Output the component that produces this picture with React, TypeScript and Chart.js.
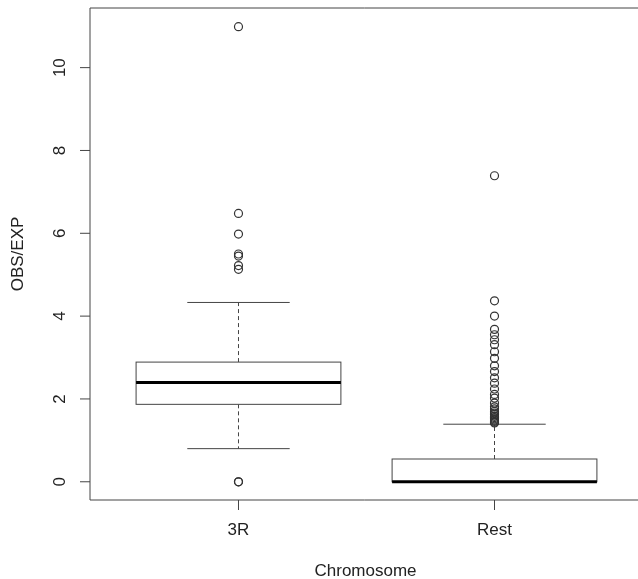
import React, { useEffect, useRef } from "react";
import { Chart, registerables } from "chart.js";

Chart.register(...registerables);

const categories = ["3R", "Rest"];
const lowerWhisker = [0.8, 0];
const q1 = [1.87, 0];
const median = [2.4, 0];
const q3 = [2.89, 0.55];
const upperWhisker = [4.33, 1.39];
const outliers3R = [10.99, 6.48, 5.98, 5.5, 5.45, 5.22, 5.13, 0, 0];
const outliersRest = [
  7.39, 4.37, 4.0, 3.68, 3.55, 3.43, 3.31, 3.14, 2.98, 2.8, 2.66, 2.51, 2.38,
  2.24, 2.11, 2.02, 1.9, 1.81, 1.76, 1.7, 1.66, 1.62, 1.58, 1.55, 1.52, 1.49,
  1.46, 1.44, 1.42,
];
const yTicks = [0, 2, 4, 6, 8, 10];
const xTitle = "Chromosome";
const yTitle = "OBS/EXP";

const FONT = "17px 'Liberation Sans', Arial, sans-serif";
const LINE = "#444";
const TEXT = "#222";

const boxPlugin = {
  id: "boxDraw",
  beforeDatasetsDraw(chart: any) {
    const { ctx } = chart;
    const xs = chart.scales.x;
    const ys = chart.scales.y;
    ctx.save();
    for (let i = 0; i < categories.length; i++) {
      const c = i + 1;
      const xc = xs.getPixelForValue(c);
      const xl = xs.getPixelForValue(c - 0.4);
      const xr = xs.getPixelForValue(c + 0.4);
      const cl = xs.getPixelForValue(c - 0.2);
      const cr = xs.getPixelForValue(c + 0.2);
      const yq1 = ys.getPixelForValue(q1[i]);
      const yq3 = ys.getPixelForValue(q3[i]);
      const ymed = ys.getPixelForValue(median[i]);
      const ylo = ys.getPixelForValue(lowerWhisker[i]);
      const yhi = ys.getPixelForValue(upperWhisker[i]);
      ctx.strokeStyle = LINE;
      ctx.lineWidth = 1;
      ctx.setLineDash([4, 3]);
      ctx.beginPath();
      ctx.moveTo(xc, yq3);
      ctx.lineTo(xc, yhi);
      ctx.moveTo(xc, yq1);
      ctx.lineTo(xc, ylo);
      ctx.stroke();
      ctx.setLineDash([]);
      ctx.beginPath();
      ctx.moveTo(cl, yhi);
      ctx.lineTo(cr, yhi);
      ctx.moveTo(cl, ylo);
      ctx.lineTo(cr, ylo);
      ctx.stroke();
      ctx.fillStyle = "#fff";
      ctx.fillRect(xl, yq3, xr - xl, yq1 - yq3);
      ctx.strokeRect(xl, yq3, xr - xl, yq1 - yq3);
      ctx.strokeStyle = "#000";
      ctx.lineWidth = 3;
      ctx.beginPath();
      ctx.moveTo(xl, ymed);
      ctx.lineTo(xr, ymed);
      ctx.stroke();
    }
    ctx.restore();
  },
  afterDraw(chart: any) {
    const { ctx, chartArea } = chart;
    const xs = chart.scales.x;
    const ys = chart.scales.y;
    const { left, top, right, bottom } = chartArea;
    ctx.save();
    ctx.strokeStyle = LINE;
    ctx.lineWidth = 1;
    ctx.beginPath();
    ctx.moveTo(right + 5, top);
    ctx.lineTo(left, top);
    ctx.lineTo(left, bottom);
    ctx.lineTo(right + 5, bottom);
    ctx.stroke();
    ctx.beginPath();
    for (const t of yTicks) {
      const y = ys.getPixelForValue(t);
      ctx.moveTo(left, y);
      ctx.lineTo(left - 10, y);
    }
    for (let i = 0; i < categories.length; i++) {
      const x = xs.getPixelForValue(i + 1);
      ctx.moveTo(x, bottom);
      ctx.lineTo(x, bottom + 10);
    }
    ctx.stroke();
    ctx.fillStyle = TEXT;
    ctx.font = FONT;
    ctx.textAlign = "center";
    ctx.textBaseline = "middle";
    for (let i = 0; i < categories.length; i++) {
      const x = xs.getPixelForValue(i + 1);
      ctx.fillText(categories[i], x, bottom + 30);
    }
    ctx.fillText(xTitle, (left + 641) / 2, bottom + 71);
    for (const t of yTicks) {
      const y = ys.getPixelForValue(t);
      ctx.save();
      ctx.translate(left - 30, y);
      ctx.rotate(-Math.PI / 2);
      ctx.fillText(String(t), 0, 0);
      ctx.restore();
    }
    ctx.save();
    ctx.translate(left - 72, (top + bottom) / 2);
    ctx.rotate(-Math.PI / 2);
    ctx.fillText(yTitle, 0, 0);
    ctx.restore();
    ctx.restore();
  },
};

export default function App() {
  const ref = useRef<HTMLCanvasElement>(null);
  useEffect(() => {
    document.body.style.margin = "0";
    document.body.style.background = "#fff";
    if (!ref.current) return;
    const chart = new Chart(ref.current, {
      type: "scatter",
      data: {
        datasets: [
          {
            label: "3R outliers",
            data: outliers3R.map((v) => ({ x: 1, y: v })),
          },
          {
            label: "Rest outliers",
            data: outliersRest.map((v) => ({ x: 2, y: v })),
          },
        ].map((d) => ({
          ...d,
          pointRadius: 4,
          pointHoverRadius: 4,
          pointBorderWidth: 1.2,
          pointBorderColor: "#333",
          pointBackgroundColor: "rgba(0,0,0,0)",
          showLine: false,
        })),
      },
      options: {
        animation: false,
        responsive: false,
        events: [],
        layout: {
          autoPadding: false,
          padding: { left: 90, top: 8, right: 0, bottom: 79 },
        },
        plugins: {
          legend: { display: false },
          tooltip: { enabled: false },
        },
        scales: {
          x: { type: "linear", min: 0.42, max: 2.5605, display: false },
          y: { type: "linear", min: -0.44, max: 11.44, display: false },
        },
      },
      plugins: [boxPlugin],
    });
    return () => chart.destroy();
  }, []);
  return (
    <div style={{ width: 638, height: 579, background: "#fff" }}>
      <canvas ref={ref} width={638} height={579} style={{ display: "block" }} />
    </div>
  );
}
